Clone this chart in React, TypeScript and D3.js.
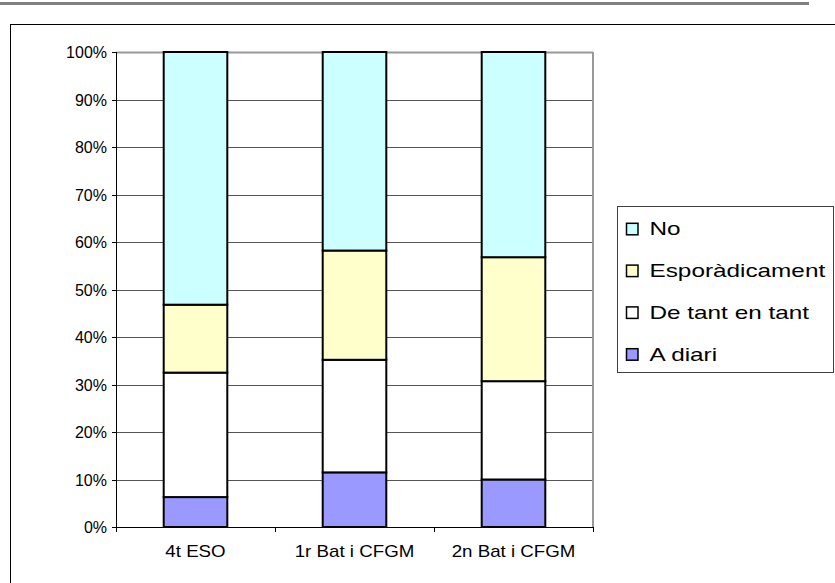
import React from "react";
import * as d3 from "d3";

const categories = ["4t ESO", "1r Bat i CFGM", "2n Bat i CFGM"];
const seriesNames = ["A diari", "De tant en tant", "Esporàdicament", "No"];
const aDiari = [6.3, 11.5, 10.0];
const deTantEnTant = [26.2, 23.7, 20.7];
const esporadicament = [14.3, 23.0, 26.1];
const no = [53.2, 41.8, 43.2];
const yTicks = [0, 10, 20, 30, 40, 50, 60, 70, 80, 90, 100];
const colors = ["#9999FF", "#FFFFFF", "#FFFFCC", "#CCFFFF"];

const W = 835;
const H = 583;
const plot = { left: 116, right: 593, top: 52, bottom: 527 };

export default function App() {
  const seriesValues = [aDiari, deTantEnTant, esporadicament, no];
  const rows = categories.map((c, i) => {
    const r: any = { cat: c };
    seriesNames.forEach((s, k) => (r[s] = seriesValues[k][i]));
    return r;
  });
  const stack = d3.stack<any>().keys(seriesNames).offset(d3.stackOffsetExpand);
  const stacked = stack(rows);

  const x = d3
    .scaleBand<string>()
    .domain(categories)
    .range([plot.left, plot.right])
    .paddingInner(0.6)
    .paddingOuter(0.3);
  const step = (plot.right - plot.left) / categories.length;
  const y = d3.scaleLinear().domain([0, 1]).range([plot.bottom, plot.top]);

  const legendOrder = [...seriesNames].reverse();
  const font = "'Liberation Sans', Arial, sans-serif";

  return (
    <svg
      width={W}
      height={H}
      style={{ position: "absolute", left: 0, top: 0, background: "#fff" }}
      fontFamily={font}
    >
      <rect x={0} y={2} width={809} height={3} fill="#808080" />
      <rect x={10.5} y={24.5} width={1000} height={1000} fill="#fff" stroke="#000" strokeWidth={1} />

      {/* gridlines */}
      {yTicks.slice(1, -1).map((t) => (
        <line
          key={"g" + t}
          x1={plot.left}
          x2={plot.right}
          y1={Math.round(y(t / 100)) + 0.5}
          y2={Math.round(y(t / 100)) + 0.5}
          stroke="#555"
          strokeWidth={1}
        />
      ))}
      {/* plot area border top/right */}
      <line x1={plot.left} x2={plot.right} y1={plot.top + 0.5} y2={plot.top + 0.5} stroke="#999" strokeWidth={2} />
      <line x1={plot.right} x2={plot.right} y1={plot.top} y2={plot.bottom} stroke="#999" strokeWidth={2} />

      {/* bars */}
      {stacked.map((s, k) =>
        s.map((d, i) => {
          const x0 = x(categories[i])!;
          const y0 = y(d[1]);
          const y1 = y(d[0]);
          return (
            <rect
              key={k + "-" + i}
              x={x0}
              y={y0}
              width={x.bandwidth()}
              height={y1 - y0}
              fill={colors[k]}
              stroke="#000"
              strokeWidth={2}
            />
          );
        })
      )}

      {/* y axis */}
      <line x1={plot.left + 0.5} x2={plot.left + 0.5} y1={plot.top} y2={plot.bottom} stroke="#000" strokeWidth={1} />
      {yTicks.map((t) => {
        const yy = Math.round(y(t / 100)) + 0.5;
        return (
          <g key={"t" + t}>
            <line x1={plot.left - 4} x2={plot.left} y1={yy} y2={yy} stroke="#000" strokeWidth={1} />
            <text x={107} y={yy} dy="0.36em" textAnchor="end" fontSize={16} fill="#000">
              {t + "%"}
            </text>
          </g>
        );
      })}

      {/* x axis */}
      <line x1={plot.left} x2={plot.right} y1={plot.bottom + 0.5} y2={plot.bottom + 0.5} stroke="#000" strokeWidth={1} />
      {d3.range(categories.length + 1).map((i) => {
        const xx = Math.round(plot.left + i * step) + 0.5;
        return <line key={"xt" + i} x1={xx} x2={xx} y1={plot.bottom} y2={plot.bottom + 5} stroke="#000" strokeWidth={1} />;
      })}
      {categories.map((c) => {
        const cx = x(c)! + x.bandwidth() / 2;
        return (
          <text
            key={"xl" + c}
            transform={`translate(${cx},556.5) scale(1.17,1)`}
            textAnchor="middle"
            fontSize={16}
            fill="#000"
          >
            {c}
          </text>
        );
      })}

      {/* legend */}
      <rect x={617.5} y={206.5} width={216} height={166} fill="#fff" stroke="#404040" strokeWidth={1} />
      {legendOrder.map((name, j) => {
        const base = 235.3 + j * 41.8;
        const k = seriesNames.indexOf(name);
        return (
          <g key={"lg" + name}>
            <rect x={626.5} y={base - 12} width={11.5} height={11.5} fill={colors[k]} stroke="#000" strokeWidth={1.5} />
            <text transform={`translate(649.5,${base}) scale(1.28,1)`} fontSize={19} fill="#000">
              {name}
            </text>
          </g>
        );
      })}
    </svg>
  );
}
